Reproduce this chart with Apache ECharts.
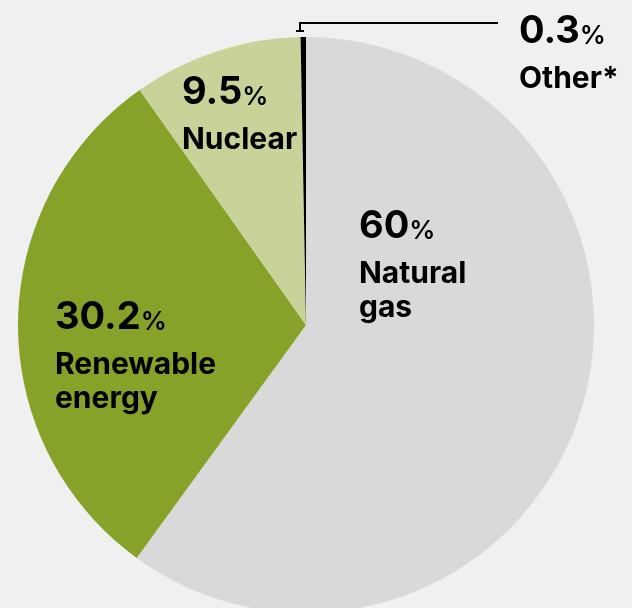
<!DOCTYPE html>
<html>
<head>
<meta charset="utf-8">
<script src="https://cdn.jsdelivr.net/npm/echarts@6/dist/echarts.min.js"></script>
<style>
html,body{margin:0;padding:0;background:#f0f0f0;}
#c{width:632px;height:608px;}
</style>
</head>
<body>
<div id="c"></div>
<script>
const categories = ['Natural gas', 'Renewable energy', 'Nuclear', 'Other*'];
const labelNames = [['Natural', 'gas'], ['Renewable', 'energy'], ['Nuclear'], ['Other*']];
const values = [60, 30.2, 9.5, 0.3];
const valueTexts = ['60', '30.2', '9.5', '0.3'];

const colors = ['#d9d9d9', '#86a229', '#c8d39a', '#000000'];
const labelPos = [[359, 196], [55, 287], [182, 62], [519, 1]];

const chart = echarts.init(document.getElementById('c'));
const FONT = 'Inter, "Liberation Sans", Arial, sans-serif';

chart.setOption({
  backgroundColor: '#f0f0f0',
  animation: false,
  series: [{
    type: 'pie',
    center: [306, 325],
    radius: [0, 288],
    startAngle: 90,
    clockwise: true,
    silent: true,
    avoidLabelOverlap: false,
    itemStyle: { borderWidth: 0 },
    data: categories.map((c, i) => ({
      name: c,
      value: values[i],
      itemStyle: { color: colors[i] }
    })),
    label: {
      show: true,
      position: 'inside',
      formatter: p => '{v|' + valueTexts[p.dataIndex] + '}{p|%}\n' +
        labelNames[p.dataIndex].map(s => '{n|' + s + '}').join('\n'),
      align: 'left',
      verticalAlign: 'top',
      rich: {
        v: { fontFamily: FONT, fontWeight: 'bold', fontSize: 38, lineHeight: 61, color: '#000' },
        p: { fontFamily: FONT, fontWeight: 600, fontSize: 26, color: '#000', verticalAlign: 'bottom', padding: [0, 0, 13, 0] },
        n: { fontFamily: FONT, fontWeight: 'bold', fontSize: 30, lineHeight: 34, color: '#000', letterSpacing: 0.5 }
      }
    },
    labelLine: { show: false },
    labelLayout: p => ({
      x: labelPos[p.dataIndex][0],
      y: labelPos[p.dataIndex][1],
      align: 'left',
      verticalAlign: 'top'
    })
  }],
  graphic: [{
    type: 'polyline',
    silent: true,
    shape: { points: [[296, 31], [304, 31], [300, 31], [300, 23], [498, 23]] },
    style: { stroke: '#000', lineWidth: 2, fill: null }
  }]
});
</script>
</body>
</html>
